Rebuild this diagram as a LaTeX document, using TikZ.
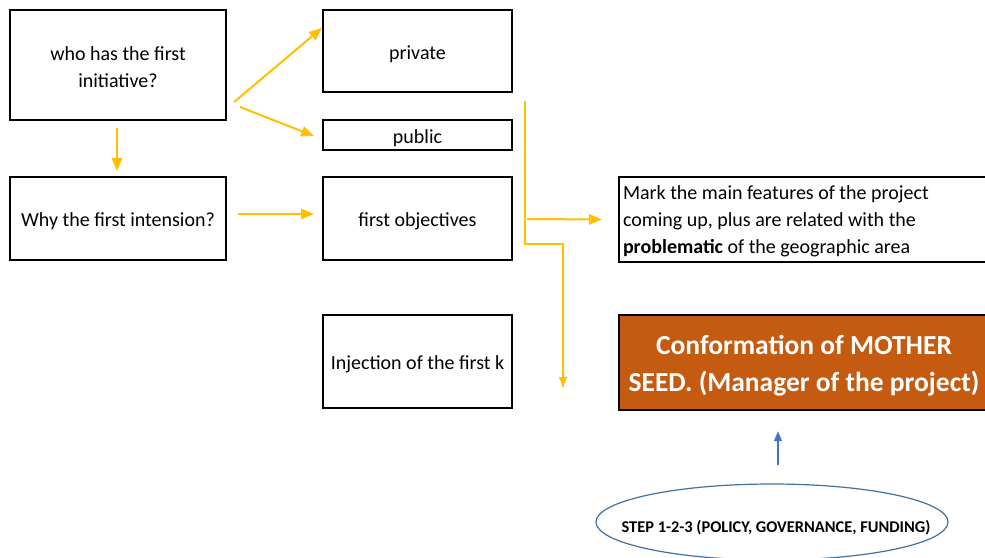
\documentclass[tikz,border=0pt]{standalone}
\usepackage{fontspec}
\setmainfont{Carlito}
\usetikzlibrary{shapes.geometric, arrows}
\definecolor{ambar}{HTML}{FFC000}
\definecolor{rust}{HTML}{C55A11}
\definecolor{steel}{HTML}{4472C4}
\definecolor{navyline}{HTML}{41719C}
\tikzstyle{question} = [rectangle, minimum width=216pt, text width=206pt, inner xsep=5pt, align=flush center, draw=black, line width=2.2pt, font=\fontsize{20}{27}\selectfont, execute at begin node={\rule{0pt}{19pt}}]
\tikzstyle{answer} = [rectangle, minimum width=189pt, inner xsep=2pt, text centered, align=center, draw=black, line width=2.2pt, font=\fontsize{20}{27}\selectfont, execute at begin node={\rule{0pt}{20pt}}]
\tikzstyle{feature} = [rectangle, minimum width=370pt, minimum height=85pt, text width=362pt, inner xsep=4pt, align=flush left, draw=black, line width=2.2pt, font=\fontsize{20}{27}\selectfont, execute at begin node={\rule{0pt}{18pt}}]
\tikzstyle{seed} = [rectangle, minimum width=370pt, minimum height=95pt, text width=364pt, inner xsep=3pt, align=flush center, draw=black, line width=2.6pt, fill=rust, text=white, font=\fontsize{27.5}{37}\selectfont\bfseries, execute at begin node={\rule{0pt}{25pt}}]
\tikzstyle{stepellipse} = [ellipse, minimum width=352pt, minimum height=76pt, inner sep=0pt, draw=navyline, line width=1.2pt]
\tikzstyle{steptext} = [font=\fontsize{16.4}{18}\selectfont\bfseries, xshift=4pt, yshift=-6pt]
\tikzstyle{arrow} = [line width=2pt, draw=ambar, ->, >=triangle 45]
\tikzstyle{line} = [line width=1.3pt, draw=ambar]
\tikzstyle{bluearrow} = [line width=1.3pt, draw=steel, ->, >=triangle 45]

\begin{document}
\begin{tikzpicture}[x=1pt, y=-1pt]
    \useasboundingbox (0,0) rectangle (985,557);

    \node (who_first) [question, minimum height=110pt] at (118,65) {who has the first\\initiative?};
    \node (why_first) [question, minimum height=83pt] at (118,218.5) {Why the first intension?};
    \node (private) [answer, minimum height=82pt] at (417.5,51) {private};
    \node (public) [answer, minimum height=30pt, inner ysep=0pt] at (417.5,135) {public};
    \node (objectives) [answer, minimum height=83pt] at (417.5,218.5) {first objectives};
    \node (injection) [answer, minimum height=93pt] at (417.5,361.5) {Injection of the first k};
    \node (features) [feature] at (804,219.5) {Mark the main features of the project\\coming up, plus are related with the\\\textbf{problematic} of the geographic area};
    \node (mother_seed) [seed] at (804,362.5) {Conformation of MOTHER\\SEED. (Manager of the project)};
    \node (steps) [stepellipse, label={[steptext]center:STEP 1-2-3 (POLICY, GOVERNANCE, FUNDING)}] at (772,522) {};

    \coordinate (feed_top) at (525,101);
    \coordinate (feed_bend) at (525,244);
    \coordinate (feed_out) at (527,219);
    \coordinate (feed_end) at (563,387);

    \draw [arrow] ([xshift=7pt,yshift=-37pt]who_first.east) -- ([yshift=23pt]private.west);
    \draw [arrow] ([xshift=13pt,yshift=-42pt]who_first.east) -- ([xshift=-8pt,yshift=-1pt]public.west);
    \draw [arrow] ([xshift=-1pt,yshift=-7pt]who_first.south) -- ([xshift=-1pt,yshift=5pt]why_first.north);
    \draw [arrow] ([xshift=11pt,yshift=4.5pt]why_first.east) -- ([xshift=-8pt,yshift=4.5pt]objectives.west);
    \draw [line] (feed_top) -- (feed_bend) -| (feed_end);
    \draw [line, ->, >=triangle 45] (feed_bend -| feed_end) -- (feed_end);
    \draw [arrow] (feed_out) -- ([xshift=-16pt]features.west);
    \draw [bluearrow] ([xshift=6pt,yshift=18pt]steps.north) -- ([xshift=-26pt,yshift=-20pt]mother_seed.south);
\end{tikzpicture}
\end{document}
